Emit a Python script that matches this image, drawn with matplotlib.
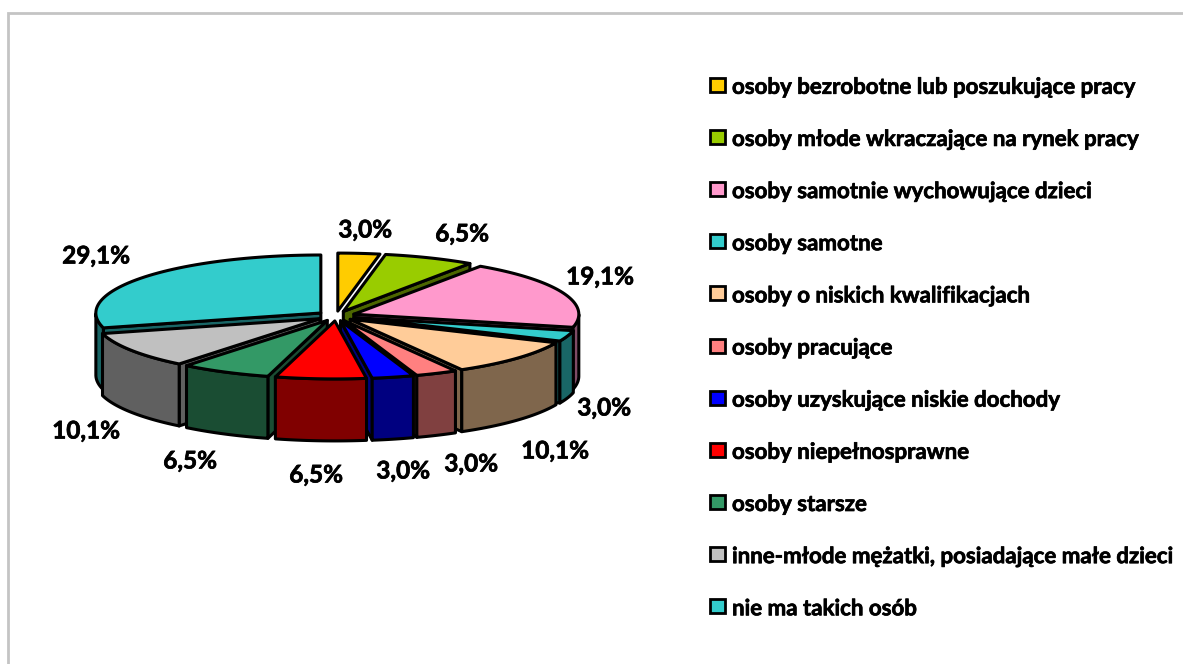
import numpy as np
import matplotlib
matplotlib.use("Agg")
import matplotlib.pyplot as plt
import matplotlib.patheffects as pe
from matplotlib.patches import Polygon, Rectangle

plt.rcParams["font.family"] = ["Lato", "DejaVu Sans"]

categories = [
    "osoby bezrobotne lub poszukujące pracy",
    "osoby młode wkraczające na rynek pracy",
    "osoby samotnie wychowujące dzieci",
    "osoby samotne",
    "osoby o niskich kwalifikacjach",
    "osoby pracujące",
    "osoby uzyskujące niskie dochody",
    "osoby niepełnosprawne",
    "osoby starsze",
    "inne-młode mężatki, posiadające małe dzieci",
    "nie ma takich osób",
]
values = [3.0, 6.5, 19.1, 3.0, 10.1, 3.0, 3.0, 6.5, 6.5, 10.1, 29.1]

top_colors = ["#FFCC00", "#99CC00", "#FF99CC", "#33CCCC", "#FFCC99", "#FF8080",
              "#0000FF", "#FF0000", "#339966", "#C0C0C0", "#33CCCC"]
wall_colors = ["#7F6600", "#4C6600", "#7F4C66", "#196666", "#7F664C", "#804040",
               "#000080", "#800000", "#1A4D33", "#606060", "#196666"]

# label centres, in pixels
label_xy = [(365, 230), (462, 234), (600, 277), (604, 408), (555, 451), (471, 464),
            (403, 471), (316, 475), (190, 461), (86, 431), (96, 256)]

# pie geometry, in pixels
cx, cy = 336, 316
rx, ry = 225, 58
explode = 0.085
depth = 62

fig = plt.figure(figsize=(11.83, 6.64), dpi=100)
ax = fig.add_axes([0, 0, 1, 1])
ax.set_xlim(0, 1183)
ax.set_ylim(664, 0)
ax.axis("off")

# frame: only top and left show, the rest runs off the picture
ax.add_patch(Rectangle((8, 13), 1190, 670, fc="white", ec="#C4C4C4", lw=2))


def point(t, r=1.0):
    # t runs clockwise from 12 o'clock
    return np.array([r * rx * np.sin(t), -r * ry * np.cos(t)])


def face(pts, color, z):
    ax.add_patch(Polygon(pts, closed=True, fc=color, ec="black", lw=2.2,
                         joinstyle="round", zorder=z))


shares = np.array(values) / sum(values) * 2 * np.pi
ends = np.cumsum(shares)
starts = ends - shares
mids = (starts + ends) / 2

# back slices first, so the front ones paint over them
order = np.argsort(-np.cos(mids))
down = np.array([0, depth])
for z, i in enumerate(order):
    t0, t1 = starts[i], ends[i]
    apex = np.array([cx, cy]) + point(mids[i], explode)
    arc_t = np.linspace(t0, t1, 60)
    arc = np.array([apex + point(t) for t in arc_t])

    # side walls that face the viewer
    if np.sin(t1) > 0:
        a = apex + point(t1)
        face([apex, a, a + down, apex + down], wall_colors[i], 3 * z)
    if np.sin(t0) < 0:
        a = apex + point(t0)
        face([apex, a, a + down, apex + down], wall_colors[i], 3 * z)

    # rim, front half only
    rim_t = arc_t[np.cos(arc_t) <= 0]
    if len(rim_t) > 1:
        rim = np.array([apex + point(t) for t in rim_t])
        face(np.vstack([rim, (rim + down)[::-1]]), wall_colors[i], 3 * z + 1)

    face(np.vstack([apex, arc]), top_colors[i], 3 * z + 2)

# Lato bold is lighter than the original face, thicken it a little
thick = [pe.withStroke(linewidth=0.5, foreground="black")]

for v, (x, y) in zip(values, label_xy):
    ax.text(x, y, f"{v:.1f}".replace(".", ",") + "%", ha="center", va="center",
            fontsize=17.5, fontweight="bold", color="black", zorder=100, path_effects=thick)

# legend
for k, (name, color) in enumerate(zip(categories, top_colors)):
    y = 84.8 + k * 52.15
    ax.add_patch(Rectangle((710.5, y - 7), 14.5, 14, fc=color, ec="black", lw=2, zorder=100))
    ax.text(732, y + 2.5, name, ha="left", va="center", fontsize=16.05, fontweight="bold",
            color="black", zorder=100, path_effects=thick)

fig.savefig("out.png", dpi=100)
